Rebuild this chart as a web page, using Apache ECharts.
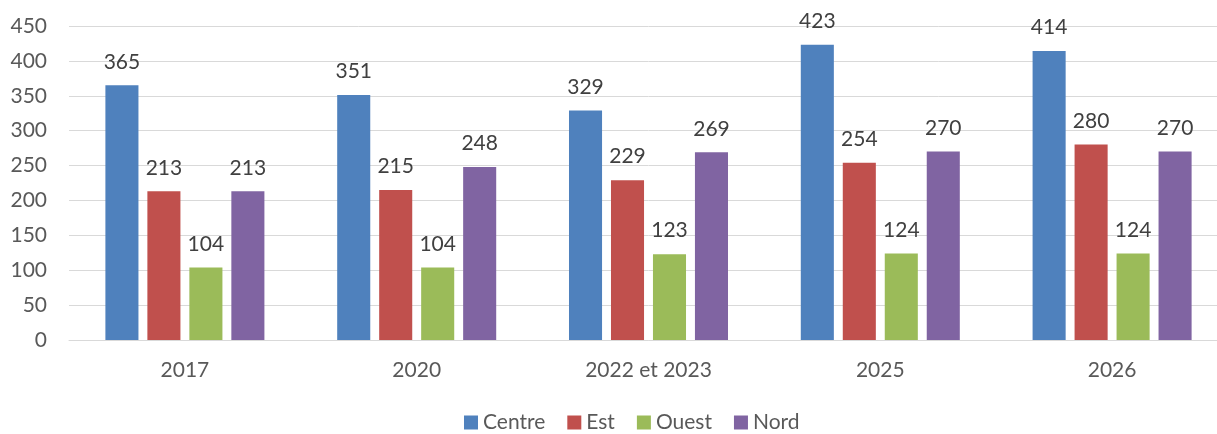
<!DOCTYPE html>
<html>
<head>
<meta charset="utf-8">
<script src="https://cdn.jsdelivr.net/npm/echarts@6/dist/echarts.min.js"></script>
<style>
    html, body { margin: 0; padding: 0; background: #fff; overflow: hidden; }
    /* le graphique d'origine est coupé à droite : on dessine plus large */
    #chart { width: 1240px; height: 434px; }
</style>
</head>
<body>
<div id="chart"></div>
<script>
    // données
    var categories = ['2017', '2020', '2022 et 2023', '2025', '2026'];
    var seriesNames = ['Centre', 'Est', 'Ouest', 'Nord'];
    var centre = [365, 351, 329, 423, 414];
    var est = [213, 215, 229, 254, 280];
    var ouest = [104, 104, 123, 124, 124];
    var nord = [213, 248, 269, 270, 270];
    var colors = ['#4f81bd', '#c0504d', '#9bbb59', '#8064a2'];

    var allData = [centre, est, ouest, nord];
    var font = 'Lato, "Open Sans", sans-serif';

    var myChart = echarts.init(document.getElementById('chart'));
    myChart.setOption({
        animation: false,
        textStyle: { fontFamily: font },
        grid: { left: 69, width: 1159, top: 26, bottom: 94, containLabel: false },
        legend: {
            left: 459,
            bottom: -4,
            itemWidth: 14,
            itemHeight: 14,
            itemGap: 22,
            icon: 'rect',
            textStyle: { fontSize: 21, color: '#595959', fontFamily: font },
            data: seriesNames
        },
        xAxis: {
            type: 'category',
            data: categories,
            axisLine: { lineStyle: { color: '#d9d9d9', width: 1 } },
            axisTick: { show: false },
            axisLabel: { fontSize: 21, color: '#595959', margin: 20 }
        },
        yAxis: {
            type: 'value',
            min: 0,
            max: 450,
            interval: 50,
            axisLine: { show: false },
            axisTick: { show: false },
            axisLabel: { fontSize: 21, color: '#595959', margin: 22 },
            splitLine: { lineStyle: { color: '#d9d9d9', width: 1 } }
        },
        series: seriesNames.map(function (name, i) {
            return {
                name: name,
                type: 'bar',
                data: allData[i],
                barGap: '27%',
                barCategoryGap: '31.4%',
                itemStyle: { color: colors[i] },
                label: {
                    show: true,
                    position: 'top',
                    distance: 13,
                    fontSize: 21,
                    color: '#404040'
                }
            };
        })
    });
</script>
</body>
</html>
